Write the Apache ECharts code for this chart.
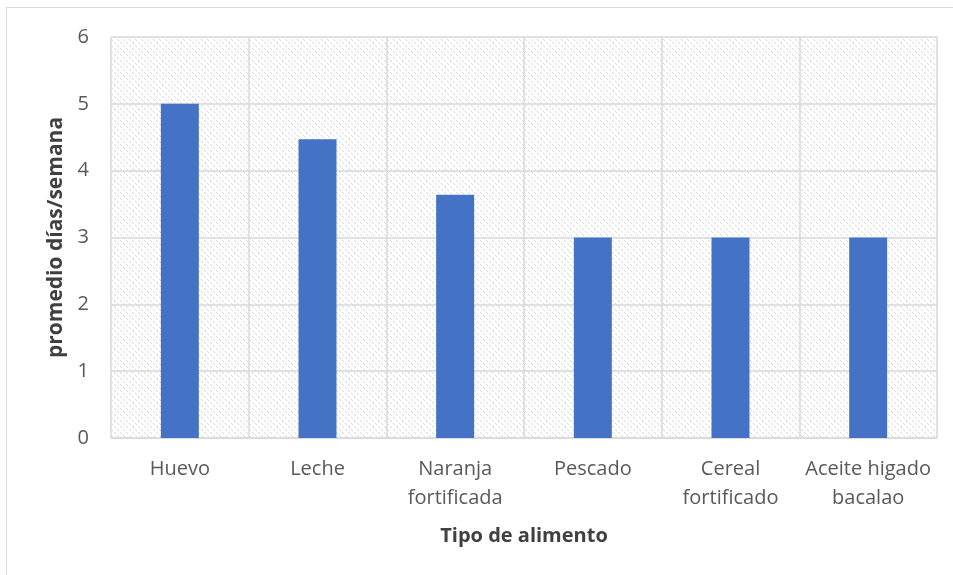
<!DOCTYPE html>
<html>
<head>
<meta charset="utf-8">
<script src="https://cdn.jsdelivr.net/npm/echarts@6/dist/echarts.min.js"></script>
<style>
  html, body { margin: 0; padding: 0; background: #ffffff; }
  #chart { width: 953px; height: 575px; }
</style>
</head>
<body>
<div id="chart"></div>
<script>
// Food types and average days per week each one is eaten
const categories = ['Huevo', 'Leche', 'Naranja\nfortificada', 'Pescado', 'Cereal\nfortificado', 'Aceite higado\nbacalao'];
const values = [5.0, 4.47, 3.64, 3.0, 3.0, 3.0];
const yTicks = { min: 0, max: 6, interval: 1 };

// Light diagonal hatch used behind the plot
function makeHatch() {
  const c = document.createElement('canvas');
  c.width = 6; c.height = 6;
  const g = c.getContext('2d');
  g.fillStyle = '#ffffff';
  g.fillRect(0, 0, 6, 6);
  g.fillStyle = '#d9d9d9';
  for (let i = 0; i < 6; i++) {
    if (i % 3 === 2) continue;
    g.fillRect(i, i, 1, 1);
  }
  return c;
}

const font = '"Open Sans", Lato, sans-serif';
const chart = echarts.init(document.getElementById('chart'), null, { renderer: 'canvas' });
chart.setOption({
  animation: false,
  backgroundColor: '#ffffff',
  graphic: [{
    type: 'rect',
    shape: { x: 6.5, y: 7.5, width: 960, height: 600 },
    style: { fill: 'none', stroke: '#d9d9d9', lineWidth: 1 },
    silent: true
  }],
  grid: {
    left: 111, right: 16, top: 37, bottom: 137,
    show: true,
    backgroundColor: { image: makeHatch(), repeat: 'repeat' },
    borderWidth: 0
  },
  xAxis: {
    type: 'category',
    data: categories,
    name: 'Tipo de alimento',
    nameLocation: 'middle',
    nameGap: 88,
    nameTextStyle: { fontFamily: font, fontSize: 20, fontWeight: 'bold', color: '#404040' },
    axisLine: { show: true, lineStyle: { color: '#d9d9d9', width: 1.5 } },
    axisTick: { show: false },
    splitLine: { show: true, lineStyle: { color: '#d9d9d9', width: 1.5 } },
    axisLabel: { fontFamily: font, fontSize: 20, color: '#595959', margin: 17, lineHeight: 29, interval: 0 }
  },
  yAxis: {
    type: 'value',
    min: yTicks.min, max: yTicks.max, interval: yTicks.interval,
    name: 'promedio días/semana',
    nameLocation: 'middle',
    nameGap: 43,
    nameTextStyle: { fontFamily: font, fontSize: 21, fontWeight: 'bold', color: '#404040' },
    axisLine: { show: false },
    axisTick: { show: false },
    splitLine: { show: true, lineStyle: { color: '#d9d9d9', width: 1.5 } },
    axisLabel: { fontFamily: font, fontSize: 20, color: '#595959', margin: 22 }
  },
  series: [{
    type: 'bar',
    data: values,
    barWidth: 38,
    itemStyle: { color: '#4472c4' }
  }]
});
</script>
</body>
</html>
